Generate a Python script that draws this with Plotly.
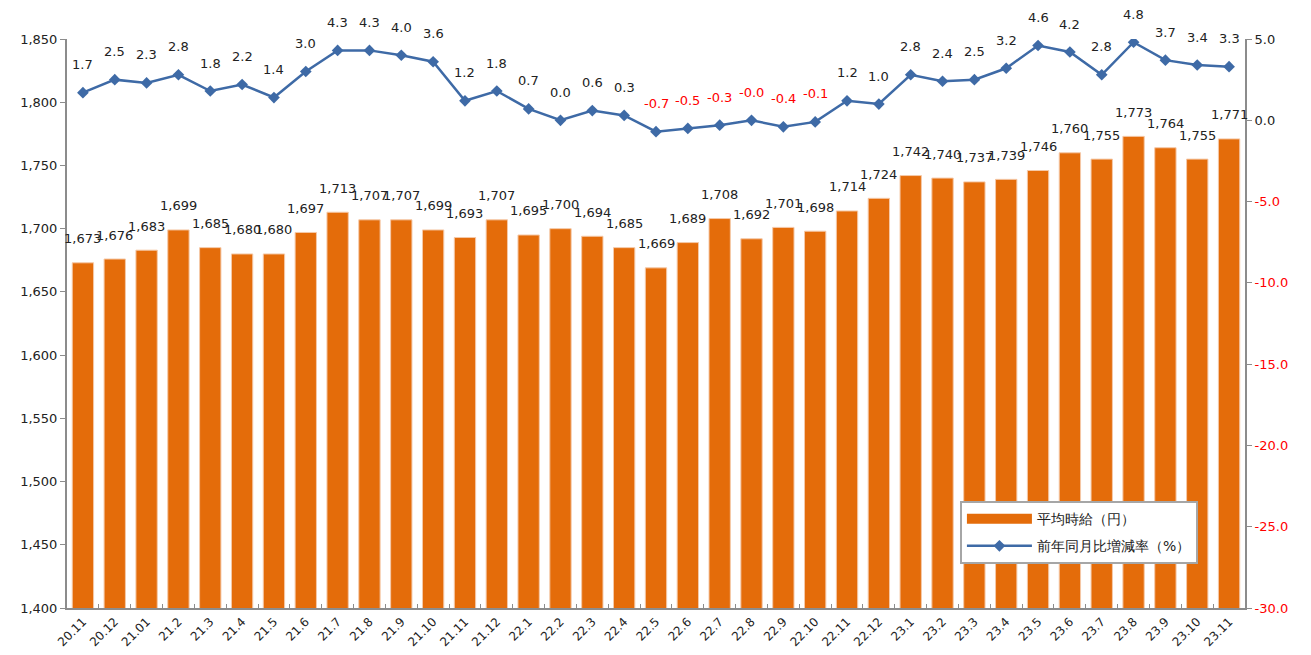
import plotly.graph_objects as go
import math

categories = ["20.11","20.12","21.01","21.2","21.3","21.4","21.5","21.6","21.7","21.8","21.9","21.10","21.11","21.12",
              "22.1","22.2","22.3","22.4","22.5","22.6","22.7","22.8","22.9","22.10","22.11","22.12",
              "23.1","23.2","23.3","23.4","23.5","23.6","23.7","23.8","23.9","23.10","23.11"]
wage = [1673,1676,1683,1699,1685,1680,1680,1697,1713,1707,1707,1699,1693,1707,
        1695,1700,1694,1685,1669,1689,1708,1692,1701,1698,1714,1724,
        1742,1740,1737,1739,1746,1760,1755,1773,1764,1755,1771]
yoy = [1.7,2.5,2.3,2.8,1.8,2.2,1.4,3.0,4.3,4.3,4.0,3.6,1.2,1.8,
       0.7,0.0,0.6,0.3,-0.7,-0.5,-0.3,-0.0,-0.4,-0.1,1.2,1.0,
       2.8,2.4,2.5,3.2,4.6,4.2,2.8,4.8,3.7,3.4,3.3]
left_ticks = [1400,1450,1500,1550,1600,1650,1700,1750,1800,1850]
right_ticks = [5.0,0.0,-5.0,-10.0,-15.0,-20.0,-25.0,-30.0]

BAR = "#E46C0A"
LINE = "#3E6AA6"
FONT = "DejaVu Sans, Verdana, sans-serif"

fig = go.Figure()
fig.add_trace(go.Bar(x=categories, y=wage, name="平均時給（円）", showlegend=False,
                     marker=dict(color=BAR, line=dict(color="#F5C9A8", width=1)), yaxis="y"))
# legend-only entry drawn as a wide orange band, like the reference legend
fig.add_trace(go.Scatter(x=[None], y=[None], name="平均時給（円）", mode="lines", legendgroup="a",
                         line=dict(color=BAR, width=10), yaxis="y"))
fig.add_trace(go.Scatter(x=categories, y=yoy, name="前年同月比増減率（%）", mode="lines+markers", legendgroup="b",
                         line=dict(color=LINE, width=2.5), marker=dict(symbol="diamond", size=9, color=LINE),
                         yaxis="y2"))

ann = []
for i, v in enumerate(wage):
    ann.append(dict(x=i, y=v, xref="x", yref="y", text=f"{v:,}", showarrow=False, yshift=24,
                    font=dict(size=13, color="#222", family=FONT)))
for i, v in enumerate(yoy):
    neg = math.copysign(1, v) < 0
    ann.append(dict(x=i, y=v, xref="x", yref="y2", text=f"{v:.1f}", showarrow=False, yshift=28,
                    font=dict(size=13, color="#FF0000" if neg else "#222", family=FONT)))

def rt(v):
    s = f"{v:.1f}"
    return f"<span style='color:#FF0000'>{s}</span>" if v < 0 else s

fig.update_layout(
    width=1311, height=655,
    margin=dict(l=67, r=66, t=39, b=47, autoexpand=False),
    plot_bgcolor="white", paper_bgcolor="white",
    font=dict(family=FONT, size=13, color="#222"),
    bargap=0.33,
    showlegend=True,
    legend=dict(x=0.758, y=0.188, xanchor="left", yanchor="top", bgcolor="white",
                bordercolor="#A6A6A6", borderwidth=2, font=dict(size=14, color="#222"),
                itemwidth=65, tracegroupgap=6),
    xaxis=dict(type="category", tickangle=-45, tickfont=dict(size=12), showline=True, linecolor="#8C8C8C",
               linewidth=2, ticks="inside", tickson="boundaries", ticklen=4, tickcolor="#8C8C8C",
               showgrid=False, range=[-0.5, len(categories)-0.5], automargin=False),
    yaxis=dict(range=[1400, 1850], tickvals=left_ticks, tickformat=",", showline=True, linecolor="#8C8C8C",
               linewidth=2, ticks="outside", ticklen=5, tickcolor="#8C8C8C", showgrid=False, zeroline=False,
               tickfont=dict(size=13), automargin=False),
    yaxis2=dict(range=[-30, 5], overlaying="y", side="right", tickvals=right_ticks,
                ticktext=[rt(v) for v in right_ticks], showline=True, linecolor="#8C8C8C", linewidth=2,
                ticks="outside", ticklen=5, tickcolor="#8C8C8C", showgrid=False, zeroline=False,
                tickfont=dict(size=13), automargin=False),
    annotations=ann,
)
fig.write_html("out.html", config={"displayModeBar": False},
               post_script="document.body.style.margin='0';document.body.style.overflow='hidden';")
